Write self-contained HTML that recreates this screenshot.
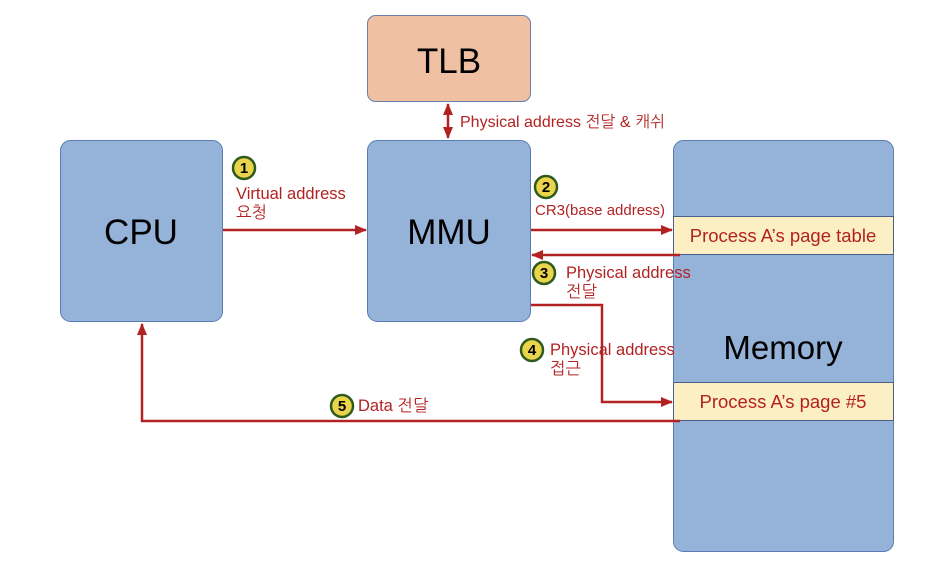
<!DOCTYPE html>
<html><head><meta charset="utf-8"><style>
html,body{margin:0;padding:0;background:#fff;}
svg{display:block;}
text{font-family:"Liberation Sans","NanumGothic","Noto Sans CJK KR",sans-serif;}
</style></head><body>
<svg width="930" height="580" viewBox="0 0 930 580" xmlns="http://www.w3.org/2000/svg">
<defs>
<marker id="ar" markerWidth="12" markerHeight="12" refX="11" refY="6" orient="auto" markerUnits="userSpaceOnUse">
<path d="M0,1 L12,6 L0,11 z" fill="#b22222"/></marker>
<marker id="ars" markerWidth="12" markerHeight="12" refX="1" refY="6" orient="auto" markerUnits="userSpaceOnUse">
<path d="M12,1 L0,6 L12,11 z" fill="#b22222"/></marker>
</defs>
<rect x="60.5" y="140.5" width="162" height="181" rx="10" fill="#95b3d9" stroke="#5a7cb5" stroke-width="1"/>
<text x="141" y="244" font-size="35" text-anchor="middle" fill="#000">CPU</text>
<rect x="367.5" y="15.5" width="163" height="86" rx="8" fill="#f0c0a2" stroke="#6d7fa8" stroke-width="1"/>
<text x="449" y="73" font-size="35" text-anchor="middle" fill="#000">TLB</text>
<rect x="367.5" y="140.5" width="163" height="181" rx="10" fill="#95b3d9" stroke="#5a7cb5" stroke-width="1"/>
<text x="449" y="244" font-size="35" text-anchor="middle" fill="#000">MMU</text>
<rect x="673.5" y="140.5" width="220" height="411" rx="10" fill="#95b3d9" stroke="#5a7cb5" stroke-width="1"/>
<rect x="673.5" y="216.5" width="220" height="38" fill="#fcefc4" stroke="#4a5f8a" stroke-width="1"/>
<text x="783" y="242" font-size="18.5" text-anchor="middle" fill="#b22222">Process A’s page table</text>
<rect x="673.5" y="382.5" width="220" height="38" fill="#fcefc4" stroke="#4a5f8a" stroke-width="1"/>
<text x="783" y="408" font-size="18.5" text-anchor="middle" fill="#b22222">Process A’s page #5</text>
<text x="783" y="359" font-size="33" text-anchor="middle" fill="#000">Memory</text>

<g stroke="#b22222" stroke-width="2.5" fill="none">
<line x1="448" y1="104" x2="448" y2="138" marker-start="url(#ars)" marker-end="url(#ar)"/>
<line x1="223" y1="230" x2="366" y2="230" marker-end="url(#ar)"/>
<line x1="531" y1="230" x2="672" y2="230" marker-end="url(#ar)"/>
<line x1="680" y1="255" x2="532" y2="255" marker-end="url(#ar)"/>
<polyline points="531,305 602,305 602,402 672,402" marker-end="url(#ar)"/>
<polyline points="680,421 142,421 142,324" marker-end="url(#ar)"/>
</g>

<text x="460" y="127" font-size="16" fill="#b22222">Physical address 전달 &amp; 캐쉬</text>
<text x="236" y="199" font-size="16.5" fill="#b22222">Virtual address</text>
<text x="236" y="218" font-size="16.5" fill="#b22222">요청</text>
<text x="535" y="215" font-size="15" fill="#b22222">CR3(base address)</text>
<text x="566" y="278" font-size="16.5" fill="#b22222">Physical address</text>
<text x="566" y="297" font-size="16.5" fill="#b22222">전달</text>
<text x="550" y="355" font-size="16.5" fill="#b22222">Physical address</text>
<text x="550" y="374" font-size="16.5" fill="#b22222">접근</text>
<text x="358" y="411" font-size="16.5" fill="#b22222">Data 전달</text>

<g font-size="15" font-weight="bold" text-anchor="middle" fill="#000">
<circle cx="244" cy="168" r="11" fill="#e9d44c" stroke="#2f5a1e" stroke-width="2.5"/><text x="244" y="173">1</text>
<circle cx="546" cy="187" r="11" fill="#e9d44c" stroke="#2f5a1e" stroke-width="2.5"/><text x="546" y="192">2</text>
<circle cx="544" cy="273" r="11" fill="#e9d44c" stroke="#2f5a1e" stroke-width="2.5"/><text x="544" y="278">3</text>
<circle cx="532" cy="350" r="11" fill="#e9d44c" stroke="#2f5a1e" stroke-width="2.5"/><text x="532" y="355">4</text>
<circle cx="342" cy="406" r="11" fill="#e9d44c" stroke="#2f5a1e" stroke-width="2.5"/><text x="342" y="411">5</text>
</g>
</svg>
</body></html>
